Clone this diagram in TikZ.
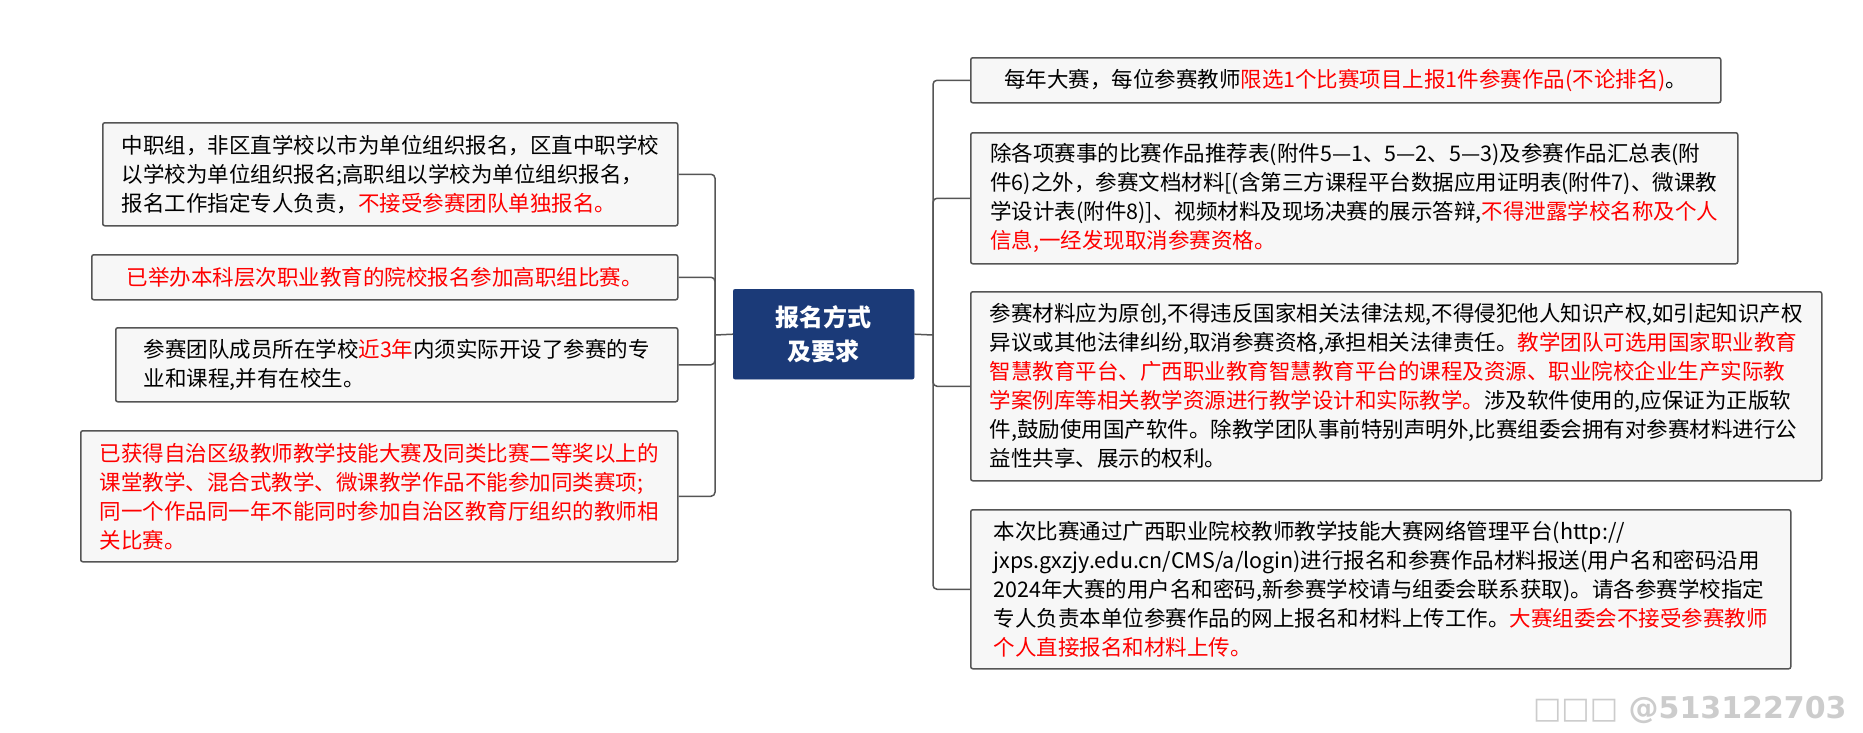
\documentclass[tikz,border=0pt]{standalone}
\usepackage{fontspec}
\setmainfont{Noto Sans CJK SC}
\newfontfamily\wmfont{DejaVu Sans}
\definecolor{boxfill}{HTML}{F7F7F7}
\definecolor{boxline}{HTML}{555555}
\definecolor{hubblue}{HTML}{1B3A78}
\definecolor{redtxt}{HTML}{FF0000}
\newcommand{\rt}[1]{\textcolor{redtxt}{#1}}
\begin{document}
\begin{tikzpicture}[x=1pt,y=-1pt,
  box/.style={draw=boxline,line width=1.5pt,fill=boxfill,rounded corners=2pt,anchor=north west,align=left,font=\fontsize{21.5}{29}\selectfont,inner sep=4pt},
  hub/.style={fill=hubblue,draw=hubblue,rounded corners=2pt,anchor=north west,align=center,text=white,font=\fontsize{24}{34}\selectfont\bfseries},
  link/.style={draw=boxline,line width=1.5pt,rounded corners=4pt}]
\useasboundingbox (0,0) rectangle (1863,732);
\node[hub,minimum width=181pt,minimum height=90pt] (c) at (733,289) {报名方式\\及要求};
\node[box,minimum width=575pt,minimum height=103pt] (L1) at (102,122) {中职组，非区直学校以市为单位组织报名，区直中职学校\\以学校为单位组织报名;高职组以学校为单位组织报名，\\报名工作指定专人负责，\rt{不接受参赛团队单独报名。}};
\node[box,minimum width=586pt,minimum height=45pt,align=center] (L2) at (91,254) {\rt{已举办本科层次职业教育的院校报名参加高职组比赛。}};
\node[box,minimum width=562pt,minimum height=74pt] (L3) at (115,327) {参赛团队成员所在学校\rt{近3年}内须实际开设了参赛的专\\业和课程,并有在校生。};
\node[box,minimum width=597pt,minimum height=131pt] (L4) at (80,430) {\color{redtxt}已获得自治区级教师教学技能大赛及同类比赛二等奖以上的\\\color{redtxt}课堂教学、混合式教学、微课教学作品不能参加同类赛项;\\\color{redtxt}同一个作品同一年不能同时参加自治区教育厅组织的教师相\\\color{redtxt}关比赛。};
\node[box,minimum width=750pt,minimum height=45pt,align=center] (R1) at (970,57) {每年大赛，每位参赛教师\rt{限选1个比赛项目上报1件参赛作品(不论排名)}。};
\node[box,minimum width=767pt,minimum height=131pt] (R2) at (970,132) {除各项赛事的比赛作品推荐表(附件5—1、5—2、5—3)及参赛作品汇总表(附\\件6)之外，参赛文档材料[(含第三方课程平台数据应用证明表(附件7)、微课教\\学设计表(附件8)]、视频材料及现场决赛的展示答辩,\rt{不得泄露学校名称及个人}\\\rt{信息,一经发现取消参赛资格。}};
\node[box,minimum width=851pt,minimum height=189pt] (R3) at (970,291) {参赛材料应为原创,不得违反国家相关法律法规,不得侵犯他人知识产权,如引起知识产权\\异议或其他法律纠纷,取消参赛资格,承担相关法律责任。\rt{教学团队可选用国家职业教育}\\\rt{智慧教育平台、广西职业教育智慧教育平台的课程及资源、职业院校企业生产实际教}\\\rt{学案例库等相关教学资源进行教学设计和实际教学。}涉及软件使用的,应保证为正版软\\件,鼓励使用国产软件。除教学团队事前特别声明外,比赛组委会拥有对参赛材料进行公\\益性共享、展示的权利。};
\node[box,minimum width=820pt,minimum height=159pt] (R4) at (970,509) {本次比赛通过广西职业院校教师教学技能大赛网络管理平台(http://\\jxps.gxzjy.edu.cn/CMS/a/login)进行报名和参赛作品材料报送(用户名和密码沿用\\2024年大赛的用户名和密码,新参赛学校请与组委会联系获取)。请各参赛学校指定\\专人负责本单位参赛作品的网上报名和材料上传工作。\rt{大赛组委会不接受参赛教师}\\\rt{个人直接报名和材料上传。}};
\coordinate (lb) at (715,335);
\coordinate (rb) at (933,335);
\draw[link] (c.west) -- (lb);
\draw[link] (c.east) -- (rb);
\foreach \n in {L1,L2,L3,L4} \draw[link] (lb) |- (\n.east);
\foreach \n in {R1,R2,R3,R4} \draw[link] (rb) |- (\n.west);
\node[anchor=east,text=black!20,font=\wmfont\fontsize{30}{30}\selectfont\bfseries] (wm) at (1850,710) {□□□ @513122703};
\end{tikzpicture}
\end{document}
